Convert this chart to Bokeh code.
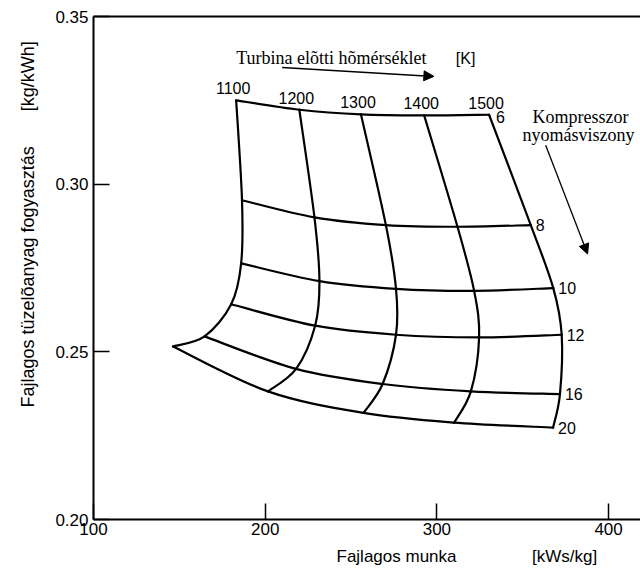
import math
from bokeh.plotting import figure
from bokeh.models import (Range1d, LinearAxis, FixedTicker, PrintfTickFormatter,
                          Label, Arrow, NormalHead, ColumnDataSource, Title)
from bokeh.embed import file_html
from bokeh.resources import INLINE
from bokeh.core.properties import value

# ---------------- data ----------------
temperatures = [1100, 1200, 1300, 1400, 1500]
pressure_ratios = [6, 8, 10, 12, 16, 20]

work_pr6 = [183.1, 219.9, 255.8, 292.6, 330.4]
sfc_pr6 = [0.3250, 0.3222, 0.3208, 0.3205, 0.3207]
work_pr8 = [186.5, 228.7, 270.3, 312.0, 354.7]
sfc_pr8 = [0.2952, 0.2901, 0.2878, 0.2873, 0.2878]
work_pr10 = [186.0, 231.6, 276.2, 321.7, 367.8]
sfc_pr10 = [0.2764, 0.2711, 0.2688, 0.2682, 0.2690]
work_pr12 = [180.2, 229.1, 276.2, 324.6, 372.7]
sfc_pr12 = [0.2642, 0.2578, 0.2551, 0.2543, 0.2551]
work_pr16 = [164.7, 218.0, 268.4, 319.8, 371.7]
sfc_pr16 = [0.2546, 0.2449, 0.2404, 0.2382, 0.2374]
work_pr20 = [146.3, 201.6, 257.3, 310.1, 367.7]
sfc_pr20 = [0.2516, 0.2382, 0.2318, 0.2289, 0.2274]

x_ticks = [100, 200, 300, 400]
y_ticks = [0.20, 0.25, 0.30, 0.35]

work_rows = [work_pr6, work_pr8, work_pr10, work_pr12, work_pr16, work_pr20]
sfc_rows = [sfc_pr6, sfc_pr8, sfc_pr10, sfc_pr12, sfc_pr16, sfc_pr20]

# ---------------- figure ----------------
W, H = 640, 572
ML, MT, MB = 92, 16, 52
FW, FH = W - ML, H - MT - MB
X0, Y0, Y1 = 100, 0.20, 0.35
KX = 1.72                      # px per x unit
X1 = X0 + FW / KX
KY = FH / (Y1 - Y0)            # px per y unit

SANS = "Liberation Sans"
SERIF = "Liberation Serif"
NB = "\u00a0"

p = figure(width=W, height=H, x_range=Range1d(X0, X1), y_range=Range1d(Y0, Y1),
           output_backend="svg", toolbar_location=None,
           min_border_left=ML, min_border_right=0, min_border_top=MT,
           min_border_bottom=MB)
p.grid.visible = False
p.outline_line_color = None
p.background_fill_color = "white"
p.border_fill_color = "white"

for ax in p.xaxis:
    ax.ticker = FixedTicker(ticks=x_ticks)
    ax.formatter = PrintfTickFormatter(format="%d")
    ax.major_label_standoff = 3
for ax in p.yaxis:
    ax.ticker = FixedTicker(ticks=y_ticks)
    ax.formatter = PrintfTickFormatter(format="%.2f")
    ax.major_label_standoff = 5
for ax in list(p.xaxis) + list(p.yaxis):
    ax.major_tick_in = 16
    ax.major_tick_out = 0
    ax.minor_tick_in = 0
    ax.minor_tick_out = 0
    ax.axis_line_width = 2
    ax.axis_line_color = "black"
    ax.major_tick_line_color = "black"
    ax.major_tick_line_width = 1.5
    ax.major_label_text_font = SANS
    ax.major_label_text_font_size = "17px"
    ax.major_label_text_color = "black"

top_axis = LinearAxis(ticker=FixedTicker(ticks=[]), axis_line_width=2,
                      axis_line_color="black", major_tick_in=0, major_tick_out=0,
                      minor_tick_in=0, minor_tick_out=0,
                      major_label_text_font_size="0px")
p.add_layout(top_axis, "above")

# axis titles (placed in the side panels)
x_title = Title(text="Fajlagos munka" + NB * 16 + "[kWs/kg]", align="left",
                offset=243, text_font=SANS, text_font_size="17px",
                text_font_style="normal", text_color="black", standoff=14)
p.add_layout(x_title, "below")
y_title = Title(text="Fajlagos tüzelõanyag fogyasztás" + NB * 7 + "[kg/kWh]",
                align="left", offset=112, text_font=SANS, text_font_size="18px",
                text_font_style="normal", text_color="black", standoff=30)
p.add_layout(y_title, "left")


# ---------------- smooth curves through the grid points ----------------
def smooth_segments(xs, ys):
    n = len(xs)
    seg = dict(x0=[], y0=[], x1=[], y1=[], cx0=[], cy0=[], cx1=[], cy1=[])
    for i in range(n - 1):
        im = max(i - 1, 0)
        ip2 = min(i + 2, n - 1)
        seg["x0"].append(xs[i]); seg["y0"].append(ys[i])
        seg["x1"].append(xs[i + 1]); seg["y1"].append(ys[i + 1])
        seg["cx0"].append(xs[i] + (xs[i + 1] - xs[im]) / 6.0)
        seg["cy0"].append(ys[i] + (ys[i + 1] - ys[im]) / 6.0)
        seg["cx1"].append(xs[i + 1] - (xs[ip2] - xs[i]) / 6.0)
        seg["cy1"].append(ys[i + 1] - (ys[ip2] - ys[i]) / 6.0)
    return seg


all_seg = dict(x0=[], y0=[], x1=[], y1=[], cx0=[], cy0=[], cx1=[], cy1=[])
for wr, sr in zip(work_rows, sfc_rows):          # constant pressure ratio
    s = smooth_segments(wr, sr)
    for k in all_seg:
        all_seg[k].extend(s[k])
for j in range(len(temperatures)):               # constant temperature
    wc = [row[j] for row in work_rows]
    sc = [row[j] for row in sfc_rows]
    s = smooth_segments(wc, sc)
    for k in all_seg:
        all_seg[k].extend(s[k])

p.bezier(x0="x0", y0="y0", x1="x1", y1="y1", cx0="cx0", cy0="cy0",
         cx1="cx1", cy1="cy1", source=ColumnDataSource(all_seg),
         line_color="black", line_width=2.2, line_cap="round")

# ---------------- labels on the grid ----------------
t_lab_x = [w - 3 / KX for w in work_pr6]
t_lab_y = [s + 12 / KY for s in sfc_pr6]
p.text(x=t_lab_x, y=t_lab_y, text=[str(t) for t in temperatures],
       text_font=value(SANS), text_font_size="16px", text_align="center",
       text_baseline="middle", text_color="black")

pr_x = [row[-1] + 5 / KX for row in work_rows]
pr_y = [row[-1] for row in sfc_rows]
pr_y[0] = pr_y[0] - 2 / KY
pr_x[0] = pr_x[0] + 2 / KX
p.text(x=pr_x, y=pr_y, text=[str(r) for r in pressure_ratios],
       text_font=value(SANS), text_font_size="16px", text_align="left",
       text_baseline="middle", text_color="black")


def px2x(px):
    return X0 + (px - ML) / KX


def py2y(py):
    return Y0 + (MT + FH - py) / KY


# ---------------- annotations ----------------
p.add_layout(Label(x=px2x(235), y=py2y(58), text="Turbina elõtti hõmérséklet",
                   text_font=SERIF, text_font_size="18px", text_align="left",
                   text_baseline="alphabetic", text_color="black"))
p.add_layout(Label(x=px2x(455), y=py2y(58), text="[K]",
                   text_font=SANS, text_font_size="16px", text_align="left",
                   text_baseline="alphabetic", text_color="black"))
p.add_layout(Arrow(end=NormalHead(size=10, fill_color="black", line_color="black"),
                   x_start=px2x(281), y_start=py2y(67),
                   x_end=px2x(433), y_end=py2y(76),
                   line_color="black", line_width=1.5))

p.add_layout(Label(x=px2x(580), y=py2y(117), text="Kompresszor",
                   text_font=SERIF, text_font_size="18px", text_align="center",
                   text_baseline="alphabetic", text_color="black"))
p.add_layout(Label(x=px2x(578), y=py2y(135), text="nyomásviszony",
                   text_font=SERIF, text_font_size="18px", text_align="center",
                   text_baseline="alphabetic", text_color="black"))
p.add_layout(Arrow(end=NormalHead(size=10, fill_color="black", line_color="black"),
                   x_start=px2x(545), y_start=py2y(145),
                   x_end=px2x(587), y_end=py2y(254),
                   line_color="black", line_width=1.3))

open("out.html", "w").write(file_html(p, INLINE))
